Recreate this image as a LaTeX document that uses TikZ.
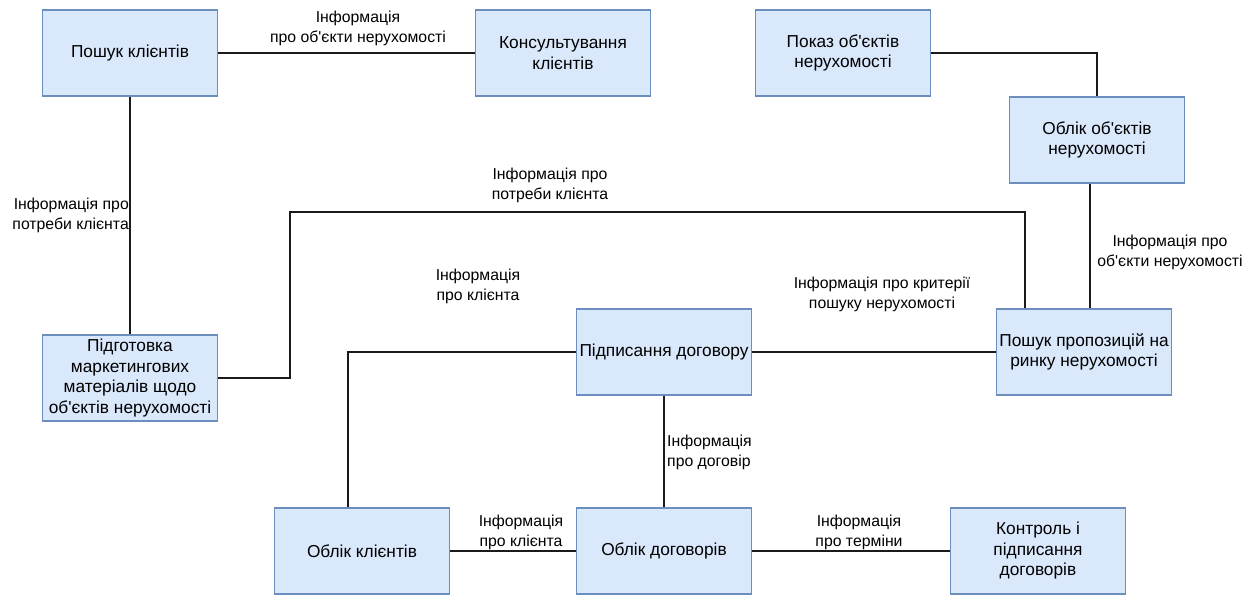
\documentclass[tikz,border=0pt]{standalone}
\usepackage{fontspec}
\setmainfont{Liberation Sans}[Ligatures=TeXOff]
\definecolor{boxfill}{HTML}{DAE8FC}
\definecolor{boxline}{HTML}{6C8EBF}
\definecolor{wire}{HTML}{1A1A1A}
\begin{document}
\begin{tikzpicture}[x=1pt,y=-1pt,
  blk/.style={draw=boxline,fill=boxfill,line width=1.2pt,minimum width=175pt,minimum height=86pt,
    align=center,inner sep=1pt,font=\fontsize{17.3}{20.5}\selectfont},
  lab/.style={align=center,inner sep=0pt,font=\fontsize{15.8}{20}\selectfont},
  wire/.style={draw=wire,line width=1.3pt}]
\useasboundingbox (0,0) rectangle (1258,595);
\fill[white] (0,0) rectangle (1258,595);

\node[blk] (pk) at (130,53) {Пошук клієнтів};
\node[blk] (kk) at (563,53) {Консультування\\клієнтів};
\node[blk] (po) at (843,53) {Показ об'єктів\\нерухомості};
\node[blk] (oo) at (1097,140) {Облік об'єктів\\нерухомості};
\node[blk] (pm) at (130,378) {Підготовка\\маркетингових\\матеріалів щодо\\об'єктів нерухомості};
\node[blk] (pd) at (664,352) {Підписання договору};
\node[blk] (pp) at (1084,352) {Пошук пропозицій на\\ринку нерухомості};
\node[blk] (ok) at (362,551) {Облік клієнтів};
\node[blk] (od) at (664,551) {Облік договорів};
\node[blk] (kp) at (1038,551) {Контроль і\\підписання\\договорів};

\coordinate (c1) at (290,378);
\coordinate (c2) at (290,212);
\coordinate (c3) at (1025,212);
\coordinate (c4) at (348,352);

\draw[wire] (pk.east) -- (kk.west);
\draw[wire] (pk.south) -- (pm.north);
\draw[wire] (pm.east) -- (c1) -- (c2) -- (c3) -- (c3 |- pp.north);
\draw[wire] (po.east) -| (oo.north);
\draw[wire] (oo.south -| 1090,0) -- (pp.north -| 1090,0);
\draw[wire] (pd.west) -- (c4) -- (c4 |- ok.north);
\draw[wire] (pd.east) -- (pp.west);
\draw[wire] (pd.south) -- (od.north);
\draw[wire] (ok.east) -- (od.west);
\draw[wire] (od.east) -- (kp.west);

\node[lab] (l1) at (358,28) {Інформація\\про об'єкти нерухомості};
\node[lab,anchor=east,align=right] (l2) at (129,215) {Інформація про\\потреби клієнта};
\node[lab] (l3) at (550,185) {Інформація про\\потреби клієнта};
\node[lab] (l4) at (478,286) {Інформація\\про клієнта};
\node[lab] (l5) at (882,294) {Інформація про критерії\\пошуку нерухомості};
\node[lab] (l6) at (1170,252) {Інформація про\\об'єкти нерухомості};
\node[lab,anchor=west,align=left] (l7) at (667,452) {Інформація\\про договір};
\node[lab] (l8) at (521,532) {Інформація\\про клієнта};
\node[lab] (l9) at (859,532) {Інформація\\про терміни};
\end{tikzpicture}
\end{document}
